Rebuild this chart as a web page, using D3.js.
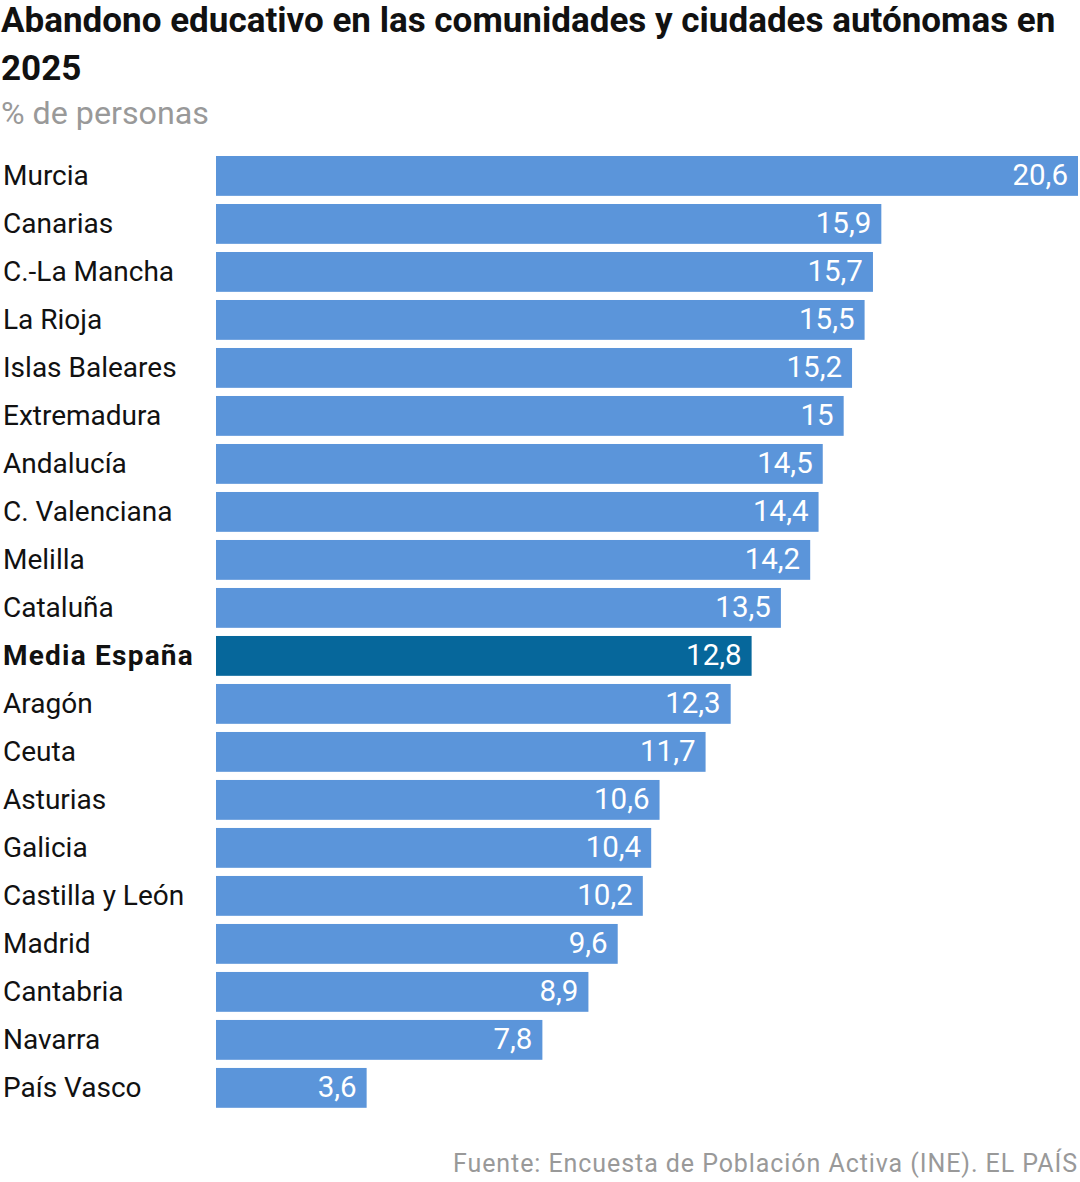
<!DOCTYPE html>
<html><head><meta charset="utf-8">
<script src="https://cdn.jsdelivr.net/npm/d3@7/dist/d3.min.js"></script>
<style>
body{margin:0;background:#fff;}
svg text{font-family:Roboto,"Noto Sans",sans-serif;}
</style></head>
<body><svg id="c" width="1080" height="1182"></svg>
<script>
const categories = ["Murcia","Canarias","C.-La Mancha","La Rioja","Islas Baleares","Extremadura","Andalucía","C. Valenciana","Melilla","Cataluña","Media España","Aragón","Ceuta","Asturias","Galicia","Castilla y León","Madrid","Cantabria","Navarra","País Vasco"];
const values = [20.6,15.9,15.7,15.5,15.2,15,14.5,14.4,14.2,13.5,12.8,12.3,11.7,10.6,10.4,10.2,9.6,8.9,7.8,3.6];
const highlight = "Media España";
const title1 = "Abandono educativo en las comunidades y ciudades autónomas en";
const title2 = "2025";
const subtitle = "% de personas";
const source = "Fuente: Encuesta de Población Activa (INE). EL PAÍS";

const svg = d3.select("#c");
const x = d3.scaleLinear().domain([0, 20.6]).range([216, 1078]);
const y = d3.scaleBand().domain(categories).range([156, 1107.8]).paddingInner(0.17).paddingOuter(0);
const fmt = v => String(v).replace(".", ",");

function fit(sel, w){ const l = sel.node().getComputedTextLength(); const fs = parseFloat(sel.attr("font-size")); sel.attr("font-size", fs*w/l); }
function spread(sel, w){ const l = sel.node().getComputedTextLength(); const n = sel.text().length; sel.attr("letter-spacing", (w-l)/n); }

const t1 = svg.append("text").attr("x",1).attr("y",32).attr("font-size",30).attr("font-weight",700).attr("fill","#111").text(title1);
fit(t1, 1055);
svg.append("text").attr("x",1).attr("y",80).attr("font-size",t1.attr("font-size")).attr("font-weight",700).attr("fill","#111").text(title2);
const st = svg.append("text").attr("x",1).attr("y",124).attr("font-size",30).attr("fill","#999").text(subtitle);
fit(st, 208);

const g = svg.append("g");
g.selectAll("rect").data(categories).join("rect")
  .attr("x", x(0)).attr("y", d => y(d)).attr("height", y.bandwidth())
  .attr("width", (d,i) => x(values[i]) - x(0))
  .attr("fill", d => d === highlight ? "#06679b" : "#5b95da");

const labs = g.selectAll("text.lab").data(categories).join("text").attr("class","lab")
  .attr("x", 3).attr("y", d => y(d) + y.bandwidth()/2 + 9.5)
  .attr("font-size", 28).attr("fill","#111")
  .attr("font-weight", d => d === highlight ? 700 : 400)
  .text(d => d);
labs.filter(d => d === highlight).each(function(){ spread(d3.select(this), 191); });

g.selectAll("text.val").data(categories).join("text").attr("class","val")
  .attr("x", (d,i) => x(values[i]) - 10).attr("y", d => y(d) + y.bandwidth()/2 + 9.5)
  .attr("text-anchor","end").attr("font-size", 29.5).attr("fill","#fff")
  .text((d,i) => fmt(values[i]));

const src = svg.append("text").attr("x",1078).attr("y",1172).attr("text-anchor","end").attr("font-size",25).attr("fill","#999").text(source);
spread(src, 625);
</script></body></html>
